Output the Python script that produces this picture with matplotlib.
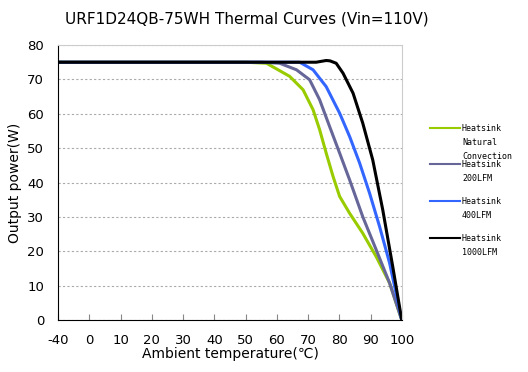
import numpy as np
import matplotlib.pyplot as plt
from matplotlib.lines import Line2D

# x axis is categorical: -40, 0, 10 ... 100 equally spaced
tick_labels = ["-40", "0", "10", "20", "30", "40", "50", "60", "70", "80", "90", "100"]

# curves (temperature in degC, power in W)
nat_t = [-40, 0, 50, 56.7, 64.1, 68.4, 71.6, 73.7, 75.8, 78.0, 80.1, 83.3, 87.5, 91.8, 96.1, 100]
nat_p = [75, 75, 75, 74.7, 70.9, 67.0, 61.2, 55.4, 48.6, 41.8, 36.0, 31.1, 25.3, 18.5, 10.8, 0]

lfm200_t = [-40, 0, 55, 60.9, 66.3, 70.5, 73.7, 76.9, 80.1, 83.3, 87.5, 91.8, 96.1, 100]
lfm200_p = [75, 75, 75, 74.7, 72.8, 69.9, 64.1, 56.3, 48.6, 40.8, 30.1, 20.5, 10.8, 0]

lfm400_t = [-40, 0, 60, 67.3, 71.6, 75.8, 80.1, 83.3, 86.5, 89.7, 92.9, 96.1, 100]
lfm400_p = [75, 75, 75, 75, 72.8, 67.9, 60.2, 53.4, 45.7, 36.9, 27.2, 16.6, 0]

lfm1000_t = [-40, 0, 70, 72.6, 75.8, 77.0, 79.0, 81.2, 84.4, 87.5, 90.7, 93.9, 97.1, 100]
lfm1000_p = [75, 75, 75, 75, 75.5, 75.4, 74.7, 71.8, 66.0, 57.3, 46.6, 32.1, 15.6, 0]

series = [
    (nat_t, nat_p, "#99cc00", "Heatsink\nNatural\nConvection"),
    (lfm200_t, lfm200_p, "#666699", "Heatsink\n200LFM"),
    (lfm400_t, lfm400_p, "#3366ff", "Heatsink\n400LFM"),
    (lfm1000_t, lfm1000_p, "#000000", "Heatsink\n1000LFM"),
]


def to_pos(t):
    # map temperature onto the category index axis
    t = np.asarray(t, dtype=float)
    return np.where(t < 0, (t + 40) / 40, (t + 10) / 10)


fig = plt.figure(figsize=(5.28, 3.72), dpi=100)
ax = fig.add_axes([0.110, 0.139, 0.651, 0.740])

for t, p, c, lab in series:
    ax.plot(to_pos(t), p, color=c, linewidth=2.2, solid_joinstyle="round")

ax.set_xlim(0, 11)
ax.set_ylim(0, 80)
ax.set_xticks(np.arange(len(tick_labels)))
ax.set_xticklabels(tick_labels, fontsize=9.5)
ax.set_yticks(np.arange(0, 81, 10))
ax.tick_params(axis="y", length=0, labelsize=9.5, pad=10)
ax.tick_params(axis="x", direction="in", length=4, color="#888888", pad=10)

ax.grid(axis="y", linestyle=(0, (2, 2)), color="#aaaaaa", linewidth=0.8)
ax.spines["top"].set_color("#cccccc")
ax.spines["right"].set_color("#cccccc")

ax.set_xlabel("Ambient temperature(℃)", fontsize=10, labelpad=0)
ax.set_ylabel("Output power(W)", fontsize=10, labelpad=4)
fig.text(0.468, 0.95, "URF1D24QB-75WH Thermal Curves (Vin=110V)", fontsize=11,
         ha="center", va="center")

# legend drawn by hand on the right
leg_y = [128, 164, 201, 238]
for (t, p, c, lab), yy in zip(series, leg_y):
    yf = 1 - yy / 372
    fig.add_artist(Line2D([430 / 528, 460 / 528], [yf, yf], color=c, linewidth=1.5))
    fig.text(462 / 528, yf + 0.012, lab, fontsize=6, family="DejaVu Sans Mono",
             ha="left", va="top", linespacing=1.75)

fig.savefig("out.png", dpi=100)
